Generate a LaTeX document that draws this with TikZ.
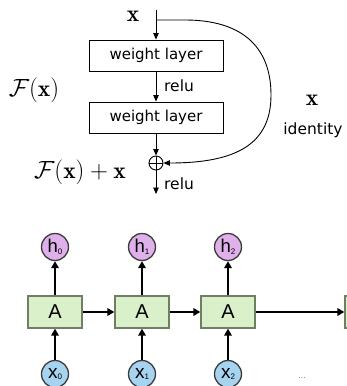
\documentclass[tikz,border=0pt]{standalone}
\usepackage{fontspec}
\newfontfamily\dvsans{DejaVu Sans}
\newfontfamily\libsans{Liberation Sans}
\usetikzlibrary{arrows.meta}
\definecolor{boxgreen}{HTML}{DAF0CA}
\definecolor{boxedge}{HTML}{6F7F64}
\definecolor{hpurple}{HTML}{DFB0EA}
\definecolor{xblue}{HTML}{A6D3F0}
\definecolor{circedge}{HTML}{3C3C3C}
\newcommand\smallsub[1]{\raisebox{-1.5pt}{\fontsize{8}{8}\selectfont #1}}
\begin{document}
\begin{tikzpicture}[x=1pt,y=-1pt,
  wl/.style={draw,line width=0.9pt,minimum width=134pt,minimum height=31pt,inner sep=0pt,font=\dvsans\fontsize{15}{18}\selectfont},
  lbl/.style={inner sep=0pt,font=\dvsans\fontsize{15.5}{18}\selectfont},
  mlbl/.style={inner sep=0pt,font=\fontsize{23.5}{28}\selectfont},
  thinarrow/.style={line width=0.9pt,-{Triangle[length=6.5pt,width=5.5pt]}},
  rnn/.style={draw=boxedge,fill=boxgreen,line width=1.3pt,minimum width=54pt,minimum height=32pt,inner sep=0pt,font=\libsans\fontsize{20}{24}\selectfont},
  hcirc/.style={circle,draw=circedge,fill=hpurple,line width=1.3pt,minimum size=27pt,inner sep=0pt,font=\libsans\fontsize{18.5}{20}\selectfont},
  xcirc/.style={circle,draw=circedge,fill=xblue,line width=1.3pt,minimum size=27pt,inner sep=0pt,font=\libsans\fontsize{19}{20}\selectfont},
  fatarrow/.style={line width=1.8pt,-{Triangle[length=7pt,width=7.5pt]}},
]
\useasboundingbox (0,0) rectangle (347,386);
\begin{scope}
\clip (0,0) rectangle (347,386);
% residual block
\coordinate (xin) at (156,10);
\coordinate (split) at (156,20);
\coordinate (out) at (156,194);
\node[wl] (w1) at (156,55.5) {weight layer};
\node[wl] (w2) at (156,117.5) {weight layer};
\node[circle,draw,line width=0.9pt,minimum size=14pt,inner sep=0pt] (plus) at (156,163) {};
\draw[line width=0.9pt] (plus.north) -- (plus.south) (plus.west) -- (plus.east);
\draw[thinarrow] (xin) -- (w1);
\draw[thinarrow] (w1) -- (w2);
\draw[thinarrow] (w2) -- (plus);
\draw[thinarrow] (plus) -- (out);
\draw[thinarrow] (split) -- (185,20) .. controls (240,20) and (271,45) .. (271,95) .. controls (271,145) and (235,163) .. (plus.east);
\node[mlbl] (lx) at (133,16) {$\mathbf{x}$};
\node[lbl,anchor=west] (r1) at (164,86) {relu};
\node[lbl,anchor=west] (r2) at (164,184) {relu};
\node[mlbl] (fx) at (34,90) {$\mathcal{F}(\mathbf{x})$};
\node[mlbl] (ix) at (312,100) {$\mathbf{x}$};
\node[lbl] (id) at (313,130) {identity};
\node[mlbl] (fxx) at (80,172) {$\mathcal{F}(\mathbf{x})+\mathbf{x}$};
% RNN
\foreach \i/\xx in {0/55,1/142,2/228}{
  \node[rnn] (A\i) at (\xx,312) {A};
  \node[hcirc] (h\i) at (\xx,247) {h\smallsub{\i}};
  \node[xcirc] (x\i) at (\xx,374) {x\smallsub{\i}};
  \draw[fatarrow] (A\i) -- (h\i);
  \draw[fatarrow] (x\i) -- (A\i);
}
\node[rnn] (A3) at (372,312) {};
\draw[fatarrow] (A0) -- (A1);
\draw[fatarrow] (A1) -- (A2);
\draw[fatarrow] (A2) -- (A3);
\node[inner sep=0pt,text=gray,font=\libsans\fontsize{9}{10}\selectfont] (dots) at (302,378) {...};
\end{scope}
\end{tikzpicture}
\end{document}
